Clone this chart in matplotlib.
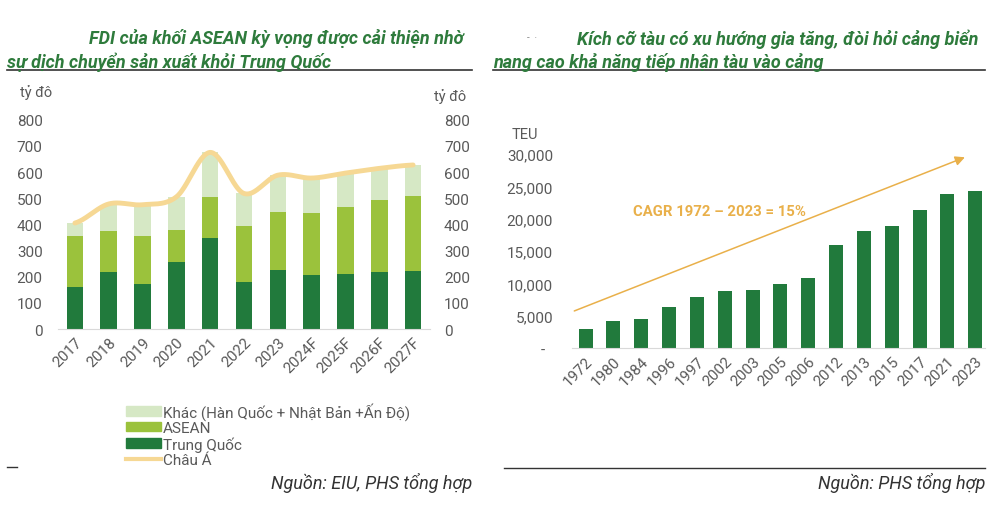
import matplotlib
matplotlib.use("Agg")
import matplotlib.pyplot as plt
from matplotlib.lines import Line2D
from matplotlib.patches import Patch
from matplotlib.ticker import FuncFormatter
import numpy as np

plt.rcParams['font.family'] = ['Roboto', 'DejaVu Sans']

# left chart: FDI (ty do)
years_fdi = ['2017', '2018', '2019', '2020', '2021', '2022', '2023',
             '2024F', '2025F', '2026F', '2027F']
trung_quoc = [162, 217, 172, 257, 346, 181, 227, 206, 210, 217, 222]
asean = [192, 159, 182, 123, 160, 211, 221, 239, 257, 275, 288]
khac = [51, 99, 121, 125, 169, 126, 140, 132, 129, 122, 117]
chau_a = [405, 478, 475, 505, 675, 518, 588, 577, 596, 614, 627]

# right chart: ship size (TEU)
years_ship = ['1972', '1980', '1984', '1996', '1997', '2002', '2003', '2005',
              '2006', '2012', '2013', '2015', '2017', '2021', '2023']
teu = [2900, 4100, 4500, 6400, 7900, 8800, 9000, 9900, 10900, 15900,
       18100, 18800, 21300, 23800, 24300]

C_TQ = '#217a3c'
C_ASEAN = '#9bc23c'
C_KHAC = '#d6e8c5'
C_LINE = '#f6d894'
C_TITLE = '#2e7b3c'
C_TICK = '#595959'
C_GOLD = '#e9b04a'

W, H = 995, 506
fig = plt.figure(figsize=(W / 100, H / 100), dpi=100)


def fx(px):
    return px / W


def fy(py):
    return 1 - py / H


def add_ax(left, top, right, bottom):
    return fig.add_axes([fx(left), fy(bottom), fx(right - left), (bottom - top) / H])


# ---- left chart
ax = add_ax(58, 120.7, 430, 330)
x = np.arange(len(years_fdi))
bw = 0.49
ax.bar(x, trung_quoc, bw, color=C_TQ, zorder=2)
ax.bar(x, asean, bw, bottom=trung_quoc, color=C_ASEAN, zorder=2)
ax.bar(x, khac, bw, bottom=np.add(trung_quoc, asean), color=C_KHAC, zorder=2)

# smooth line through Chau A totals (catmull-rom)
xs = np.linspace(0, len(x) - 1, 400)
ys = np.zeros_like(xs)
pts = np.array(chau_a, dtype=float)
for i, xv in enumerate(xs):
    k = min(int(xv), len(x) - 2)
    t = xv - k
    p0 = pts[max(k - 1, 0)]
    p1 = pts[k]
    p2 = pts[k + 1]
    p3 = pts[min(k + 2, len(x) - 1)]
    ys[i] = 0.5 * ((2 * p1) + (-p0 + p2) * t + (2 * p0 - 5 * p1 + 4 * p2 - p3) * t ** 2
                   + (-p0 + 3 * p1 - 3 * p2 + p3) * t ** 3)
ax.plot(xs, ys, color=C_LINE, lw=3.5, zorder=3, solid_capstyle='round')

ax.set_xlim(-0.5, 10.5)
ax.set_ylim(0, 800)
ax.set_yticks(range(0, 801, 100))
ax.set_xticks(x)
ax.set_xticklabels(years_fdi, rotation=45, ha='right', rotation_mode='anchor')
for s in ['top', 'right', 'left']:
    ax.spines[s].set_visible(False)
ax.spines['bottom'].set_color('#d9d9d9')
ax.tick_params(length=0, colors=C_TICK, labelsize=11, pad=11)
ax.tick_params(axis='x', pad=4)

ax2 = ax.twinx()
ax2.set_ylim(0, 800)
ax2.set_yticks(range(0, 801, 100))
for s in ['top', 'right', 'left', 'bottom']:
    ax2.spines[s].set_visible(False)
ax2.tick_params(length=0, colors=C_TICK, labelsize=11, pad=10)

fig.text(fx(20), fy(93), 'tỷ đô', color=C_TICK, fontsize=10.5, va='center')
fig.text(fx(434), fy(97), 'tỷ đô', color=C_TICK, fontsize=10.5, va='center')

handles = [Patch(color=C_KHAC), Patch(color=C_ASEAN), Patch(color=C_TQ),
           Line2D([], [], color=C_LINE, lw=3)]
labels = ['Khác (Hàn Quốc + Nhật Bản +Ấn Độ)', 'ASEAN', 'Trung Quốc', 'Châu Á']
fig.legend(handles, labels, loc='upper left', bbox_to_anchor=(fx(112), fy(389)),
           frameon=False, fontsize=11, handlelength=2.3, handleheight=0.6,
           handletextpad=0.15, labelspacing=0.08, labelcolor=C_TICK)

# ---- right chart
bx = add_ax(571.7, 155, 985, 349)
xr = np.arange(len(years_ship))
bx.bar(xr, teu, 0.5, color=C_TQ, zorder=2)
bx.set_xlim(-0.5, 14.35)
bx.set_ylim(0, 30000)
bx.set_yticks(range(0, 30001, 5000))
bx.yaxis.set_major_formatter(FuncFormatter(lambda v, p: '-  ' if v == 0 else f'{int(v):,}'))
bx.set_xticks(xr)
bx.set_xticklabels(years_ship, rotation=45, ha='right', rotation_mode='anchor')
for s in ['top', 'right', 'left']:
    bx.spines[s].set_visible(False)
bx.spines['bottom'].set_color('#d9d9d9')
bx.tick_params(length=0, colors=C_TICK, labelsize=11, pad=13.5)
bx.tick_params(axis='x', pad=4)
fig.text(fx(512), fy(135), 'TEU', color=C_TICK, fontsize=10.5, va='center')

bx.annotate('', xy=(13.72, 29650), xytext=(-0.5, 5570),
            arrowprops=dict(arrowstyle='-|>', color=C_GOLD, lw=1.1,
                            mutation_scale=14), annotation_clip=False)
bx.text(1.72, 21200, 'CAGR 1972 – 2023 = 15%', color=C_GOLD, fontsize=10.7,
        fontweight='bold', va='center', ha='left')

# ---- titles
tkw = dict(color=C_TITLE, fontsize=13, fontweight='bold', style='italic', va='center')
fig.text(fx(464), fy(39), 'FDI của khối ASEAN kỳ vọng được cải thiện nhờ', ha='right', **tkw)
fig.text(fx(7), fy(62), 'sự dịch chuyển sản xuất khỏi Trung Quốc', ha='left', **tkw)
fig.text(fx(978), fy(39), 'Kích cỡ tàu có xu hướng gia tăng, đòi hỏi cảng biển', ha='right', **tkw)
fig.text(fx(493), fy(62), 'nang cao khả năng tiếp nhận tàu vào cảng', ha='left', **tkw)
fig.text(fx(527), fy(38), '-  ·', color='#8a8a8a', fontsize=7, va='center')

fig.add_artist(Line2D([fx(7), fx(472)], [fy(71), fy(71)], color='#333333', lw=1.2))
fig.add_artist(Line2D([fx(493), fx(985)], [fy(71), fy(71)], color='#333333', lw=1.2))
fig.add_artist(Line2D([fx(7), fx(17)], [fy(468), fy(468)], color='#333333', lw=1.0))
fig.add_artist(Line2D([fx(504), fx(985)], [fy(469), fy(469)], color='#333333', lw=1.0))

skw = dict(color='#333333', fontsize=13, style='italic', va='center', ha='right')
fig.text(fx(472), fy(483), 'Nguồn: EIU, PHS tổng hợp', **skw)
fig.text(fx(985), fy(483), 'Nguồn: PHS tổng hợp', **skw)

fig.savefig('out.png', dpi=100, facecolor='white')
